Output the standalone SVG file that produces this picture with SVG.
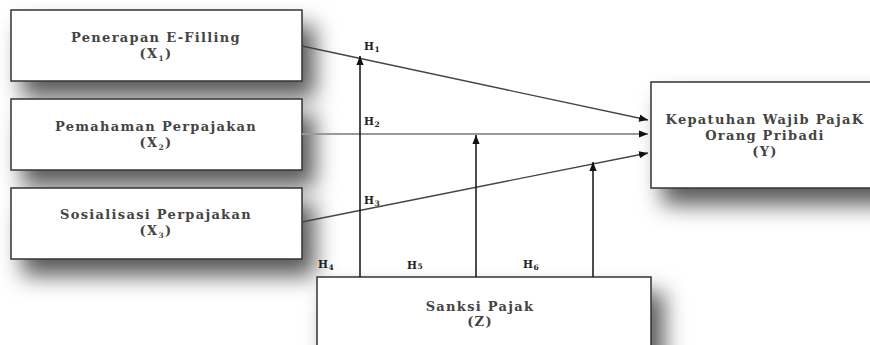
<svg xmlns="http://www.w3.org/2000/svg" width="870" height="345" viewBox="0 0 870 345">
<defs>
<filter id="sh" x="-20%" y="-40%" width="150%" height="200%">
<feDropShadow dx="12" dy="16" stdDeviation="11" flood-color="#000" flood-opacity="0.65"/>
</filter>
<marker id="ah" viewBox="0 0 10 10" refX="10" refY="5" markerWidth="9" markerHeight="9" markerUnits="userSpaceOnUse" orient="auto">
<path d="M0,1 L10,5 L0,9 Z" fill="#111"/>
</marker>
</defs>
<style>
.box{fill:#fff;stroke:#333;stroke-width:1.5}
.t{font-family:"DejaVu Serif","Liberation Serif",serif;font-size:13px;fill:#444;text-anchor:middle;font-weight:bold;letter-spacing:1.3px}
.h{font-family:"DejaVu Serif","Liberation Serif",serif;font-size:10.5px;fill:#222;font-weight:bold;letter-spacing:0.5px}
.s{font-size:7.5px}
.ln{stroke:#444;stroke-width:1.3;fill:none}
.vl{stroke:#111;stroke-width:1.5;fill:none}
</style>
<rect width="870" height="345" fill="#fff"/>
<g id="x1">
<rect class="box" x="11" y="10" width="291" height="71" filter="url(#sh)"/>
<text class="t" x="156" y="42">Penerapan E-Filling</text>
<text class="t" x="156" y="58">(X<tspan class="s" dy="3">1</tspan><tspan dy="-3">)</tspan></text>
</g>
<g id="x2">
<rect class="box" x="11" y="99" width="291" height="71" filter="url(#sh)"/>
<text class="t" x="156" y="131">Pemahaman Perpajakan</text>
<text class="t" x="156" y="147">(X<tspan class="s" dy="3">2</tspan><tspan dy="-3">)</tspan></text>
</g>
<g id="x3">
<rect class="box" x="11" y="188" width="291" height="71" filter="url(#sh)"/>
<text class="t" x="156" y="219">Sosialisasi Perpajakan</text>
<text class="t" x="156" y="235">(X<tspan class="s" dy="3">3</tspan><tspan dy="-3">)</tspan></text>
</g>
<g id="y">
<rect class="box" x="651" y="82" width="240" height="106" filter="url(#sh)"/>
<text class="t" x="765" y="124">Kepatuhan Wajib PajaK</text>
<text class="t" x="765" y="140">Orang Pribadi</text>
<text class="t" x="765" y="156">(Y)</text>
</g>
<g id="z">
<rect class="box" x="317" y="277" width="334" height="90" filter="url(#sh)"/>
<text class="t" x="480" y="311">Sanksi Pajak</text>
<text class="t" x="480" y="326">(Z)</text>
</g>
<g id="connectors">
<line class="ln" x1="302" y1="46" x2="648" y2="120" marker-end="url(#ah)"/>
<line x1="302" y1="134" x2="648" y2="134" stroke="#999" stroke-width="2" marker-end="url(#ah)"/>
<line class="ln" x1="302" y1="222" x2="648" y2="153" marker-end="url(#ah)"/>
<line class="vl" x1="360" y1="277" x2="360" y2="56" marker-end="url(#ah)"/>
<line class="vl" x1="476" y1="277" x2="476" y2="135" marker-end="url(#ah)"/>
<line class="vl" x1="593" y1="277" x2="593" y2="162" marker-end="url(#ah)"/>
</g>
<g id="labels">
<text class="h" x="364" y="50">H<tspan class="s" dy="2">1</tspan></text>
<text class="h" x="364" y="125">H<tspan class="s" dy="2">2</tspan></text>
<text class="h" x="364" y="204">H<tspan class="s" dy="2">3</tspan></text>
<text class="h" x="318" y="268">H<tspan class="s" dy="2">4</tspan></text>
<text class="h" x="407" y="269">H<tspan class="s">5</tspan></text>
<text class="h" x="523" y="268">H<tspan class="s" dy="2">6</tspan></text>
</g>
</svg>
